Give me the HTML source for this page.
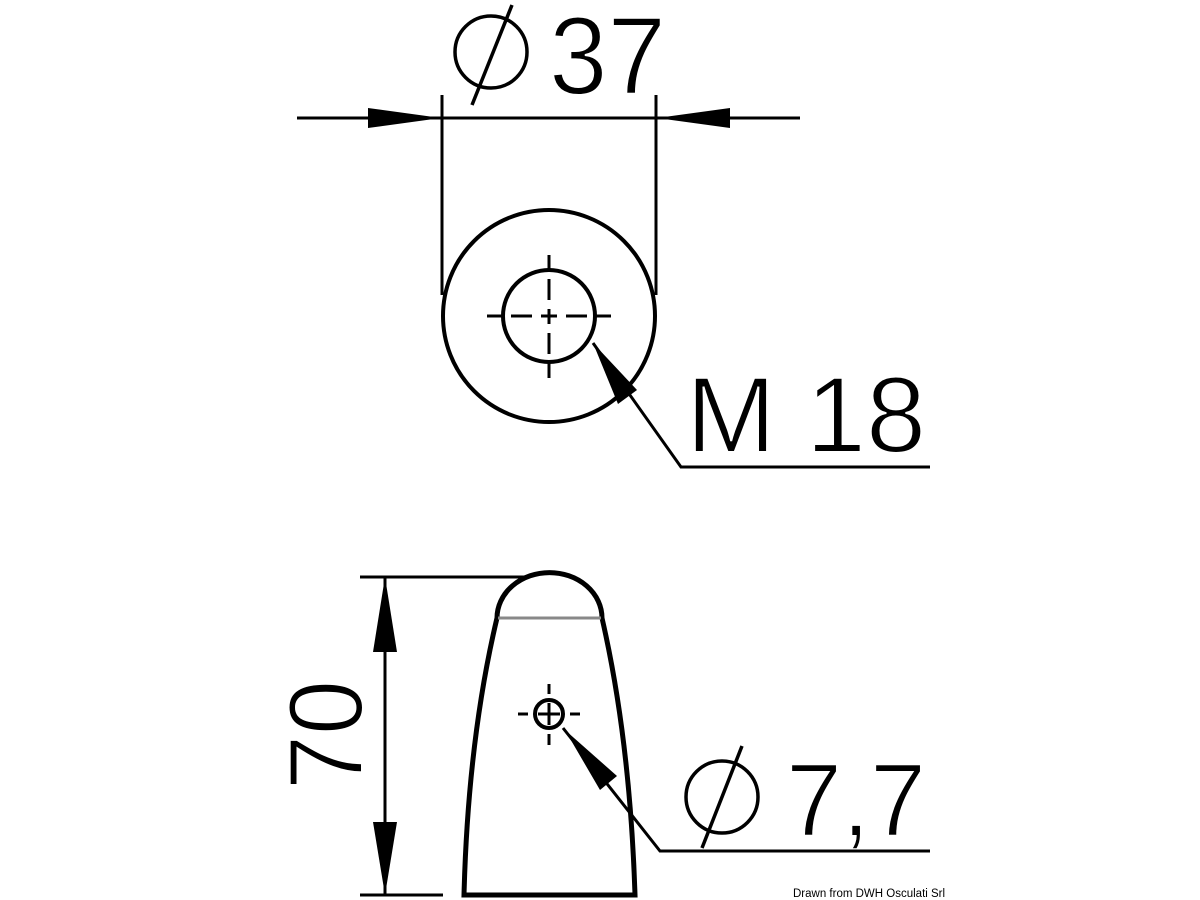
<!DOCTYPE html>
<html><head><meta charset="utf-8"><style>html,body{margin:0;padding:0;background:#fff}svg{display:block}</style></head>
<body>
<svg width="1200" height="900" viewBox="0 0 1200 900" xmlns="http://www.w3.org/2000/svg">
<g font-family="Liberation Sans, sans-serif" fill="#000" stroke="#fff" stroke-width="2">
  <text x="549" y="94" font-size="110" textLength="117" lengthAdjust="spacingAndGlyphs">37</text>
  <text x="686" y="452" font-size="108" textLength="240" lengthAdjust="spacingAndGlyphs">M 18</text>
  <text x="786" y="836" font-size="104" textLength="140" lengthAdjust="spacingAndGlyphs">7,7</text>
  <text transform="translate(362,790) rotate(-90)" font-size="105" textLength="110" lengthAdjust="spacingAndGlyphs">70</text>
</g>
<g stroke="#000" fill="none" stroke-width="4">
  <line x1="297" y1="118" x2="800" y2="118" stroke-width="3"/>
  <line x1="442" y1="95" x2="442" y2="295" stroke-width="3"/>
  <line x1="656" y1="95" x2="656" y2="295" stroke-width="3"/>
  <circle cx="549" cy="316" r="106"/>
  <circle cx="549" cy="316" r="46"/>
  <g stroke-width="3">
    <line x1="487" y1="316" x2="502" y2="316"/><line x1="511" y1="316" x2="532" y2="316"/><line x1="541" y1="316" x2="557" y2="316"/><line x1="566" y1="316" x2="587" y2="316"/><line x1="596" y1="316" x2="611" y2="316"/>
    <line x1="549" y1="255" x2="549" y2="270"/><line x1="549" y1="279" x2="549" y2="300"/><line x1="549" y1="309" x2="549" y2="324"/><line x1="549" y1="333" x2="549" y2="354"/><line x1="549" y1="363" x2="549" y2="378"/>
  </g>
  <polyline points="593,343 681,467 930,467" stroke-width="3"/>
  <circle cx="491" cy="52" r="36" stroke-width="3.5"/>
  <line x1="472" y1="105" x2="512" y2="5" stroke-width="3.5"/>
  <path d="M497,618 A52,45 0 0 1 602,618 Q630,740 635,895 L464,895 Q468,740 497,618 Z" stroke-width="5"/>
  <line x1="498" y1="618" x2="601" y2="618" stroke="#888" stroke-width="3"/>
  <line x1="360" y1="577" x2="527" y2="577" stroke-width="3"/>
  <line x1="360" y1="895" x2="443" y2="895" stroke-width="3"/>
  <line x1="385" y1="577" x2="385" y2="895" stroke-width="3"/>
  <circle cx="549" cy="714" r="14"/>
  <g stroke-width="3">
    <line x1="518" y1="714" x2="528" y2="714"/><line x1="538" y1="714" x2="560" y2="714"/><line x1="570" y1="714" x2="580" y2="714"/>
    <line x1="549" y1="684" x2="549" y2="694"/><line x1="549" y1="703" x2="549" y2="725"/><line x1="549" y1="734" x2="549" y2="745"/>
  </g>
  <polyline points="563,728 660,851 930,851" stroke-width="3"/>
  <circle cx="722" cy="797" r="36" stroke-width="3.5"/>
  <line x1="702" y1="848" x2="742" y2="746" stroke-width="3.5"/>
</g>
<g fill="#000">
  <polygon points="441,118 368,108 368,128"/>
  <polygon points="657,118 730,108 730,128"/>
  <polygon points="593,343 637,390 618,404"/>
  <polygon points="385,577 373,652 397,652"/>
  <polygon points="385,895 373,822 397,822"/>
  <polygon points="565,730 617,776 600,790"/>
</g>
<text x="793" y="897" font-family="Liberation Sans, sans-serif" font-size="11.5" fill="#000">Drawn from DWH Osculati Srl</text>
</svg>
</body></html>
